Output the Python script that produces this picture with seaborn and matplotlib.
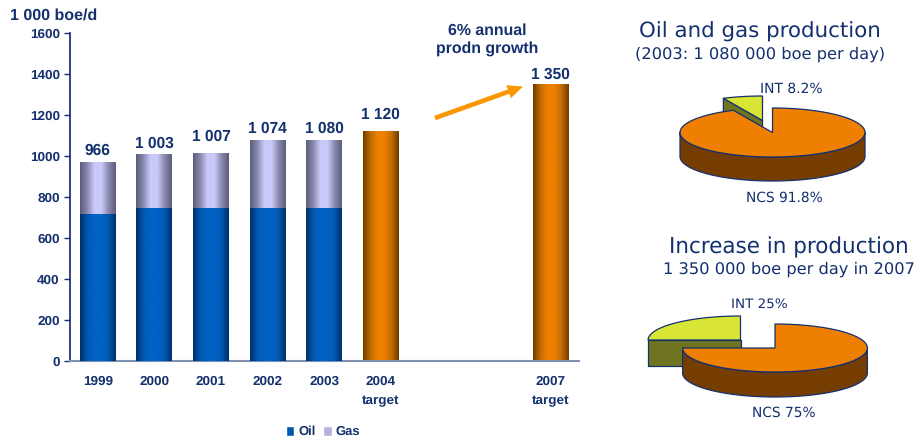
import numpy as np
import matplotlib
matplotlib.use("Agg")
import matplotlib.pyplot as plt
from matplotlib.colors import LinearSegmentedColormap
from matplotlib.patches import Patch, Polygon
import seaborn as sns

# === data ===
categories = ["1999", "2000", "2001", "2002", "2003", "2004\ntarget", "", " ", "2007\ntarget"]
totals = [966, 1003, 1007, 1074, 1080, 1120, 0, 0, 1350]
bar_tops = [970, 1005, 1010, 1078, 1078, 1120, 0, 0, 1350]
label_heights = [1024, 1060, 1096, 1135, 1135, 1200, 0, 0, 1395]
oil = [715, 745, 745, 745, 745, 0, 0, 0, 0]
y_ticks = [0, 200, 400, 600, 800, 1000, 1200, 1400, 1600]
pie1_shares = [91.8, 8.2]
pie2_shares = [75, 25]

navy = "#14306f"
W, H = 916, 442

sns.set_theme(style="white")
plt.rcParams["font.family"] = ["Liberation Sans", "DejaVu Sans"]
plt.rcParams["text.hinting"] = "none"

fig = plt.figure(figsize=(W / 100, H / 100), dpi=100, facecolor="white")
ax = fig.add_axes([69.5 / W, 1 - 361 / H, 509.5 / W, 328 / H])

# === bars ===
sns.barplot(x=categories, y=bar_tops, order=categories, color="#c8c8f8", width=0.635, ax=ax)
sns.barplot(x=categories, y=oil, order=categories, color="#0060c0", width=0.635, ax=ax)

cmap_gas = LinearSegmentedColormap.from_list("gas", ["#5c5c7c", "#8a8aae", "#c9c9fa", "#c9c9fa", "#8a8aae", "#5c5c7c"])
cmap_oil = LinearSegmentedColormap.from_list("oil", ["#00306a", "#0058b0", "#0062c4", "#0062c4", "#0058b0", "#00306a"])
cmap_tgt = LinearSegmentedColormap.from_list("tgt", ["#703c00", "#c06c00", "#ee8000", "#ee8000", "#c06c00", "#703c00"])
grad = np.linspace(0, 1, 64).reshape(1, -1)

n = len(categories)
for i, patch in enumerate(ax.patches):
    if patch.get_height() <= 0:
        continue
    idx = i % n
    if "target" in categories[idx]:
        cmap = cmap_tgt
    elif i < n:
        cmap = cmap_gas
    else:
        cmap = cmap_oil
    x0, w, h = patch.get_x(), patch.get_width(), patch.get_height()
    ax.imshow(grad, cmap=cmap, aspect="auto", extent=[x0, x0 + w, 0, h], zorder=2 + (i >= n))
    patch.set_visible(False)

ax.set_xlim(-0.5, n - 0.5)
ax.set_ylim(0, 1600)
ax.set_yticks(y_ticks)
ax.tick_params(axis="y", length=4, width=1, color=navy, labelcolor=navy, labelsize=9.7, pad=3, left=True)
ax.tick_params(axis="x", length=0, labelcolor=navy, labelsize=9.7, pad=10.5)
for lab in ax.get_yticklabels():
    lab.set_fontweight("bold")
ax.set_xticks(range(n))
ax.set_xticklabels(categories, fontweight="bold", linespacing=1.75)
sns.despine(ax=ax)
ax.spines["left"].set_color(navy)
ax.spines["bottom"].set_color("#8090b0")
ax.spines["bottom"].set_linewidth(1.5)

for i, v in enumerate(totals):
    if v > 0:
        ax.text(i, label_heights[i], f"{v:,}".replace(",", " "), ha="center", va="center",
                color=navy, fontsize=11.2, fontweight="bold", zorder=5)

# legend
handles = [Patch(facecolor="#0058b0", label="Oil"), Patch(facecolor="#b4b4dc", label="Gas")]
fig.legend(handles=handles, loc="center", bbox_to_anchor=(323 / W, 1 - 432 / H), ncol=2, frameon=False,
           prop={"weight": "bold", "size": 9.4}, labelcolor=navy, handlelength=0.65, handleheight=0.75,
           handletextpad=0.3, columnspacing=0.6, borderpad=0)

# === overlay in pixel coordinates ===
ov = fig.add_axes([0, 0, 1, 1], facecolor="none")
ov.set_xlim(0, W)
ov.set_ylim(H, 0)
ov.axis("off")

ov.text(10, 16, "1 000 boe/d", color=navy, fontsize=11.5, fontweight="bold", va="center")
ov.text(487.5, 40, "6% annual\nprodn growth", color=navy, fontsize=11.4, fontweight="bold", ha="center",
        va="center", linespacing=1.25)
ov.annotate("", xy=(523, 86.5), xytext=(435, 118),
            arrowprops=dict(arrowstyle="simple,head_length=1.0,head_width=0.9,tail_width=0.3", color="#fa9600",
                            lw=0, mutation_scale=11, shrinkA=0, shrinkB=0))


def arc(cx, cy, rx, ry, a0, a1):
    t = np.radians(np.linspace(a0, a1, 120))
    return np.column_stack([cx + rx * np.cos(t), cy - ry * np.sin(t)])


def pie3d(shares, cx, cy, rx, ry, depth, dx, dy, depth2, trim=0):
    sweep = shares[0] * 3.6 + trim
    end = 90 - sweep
    edge = dict(edgecolor=navy, linewidth=0.9, joinstyle="round")
    # detached small slice, drawn first so the main slice covers it
    sx, sy = cx + dx, cy + dy
    rim = arc(sx, sy, rx, ry, end, 90 - 360)
    corner = rim[0]
    wall = [(sx, sy), corner, (corner[0], corner[1] + depth2), (sx, sy + depth2)]
    ov.add_patch(Polygon(wall, facecolor="#6f7420", **edge))
    ov.add_patch(Polygon(np.vstack([[(sx, sy)], rim]), facecolor="#d8e534", **edge))
    # main slice side wall, only the front half of the rim shows
    front = arc(cx, cy, rx, ry, 180, 360)
    side = np.vstack([front, front[::-1] + [0, depth]])
    ov.add_patch(Polygon(side, facecolor="#753e00", **edge))
    top = arc(cx, cy, rx, ry, 90, 90 - sweep)
    ov.add_patch(Polygon(np.vstack([[(cx, cy)], top]), facecolor="#ee7f00", **edge))


pie3d(pie1_shares, 772.5, 132.5, 92.5, 24.5, 24, -10, -12, 24, trim=4.5)
pie3d(pie2_shares, 775, 348, 92.4, 24, 25, -34.5, -8, 26)

txt = dict(color=navy, family=["DejaVu Sans"], ha="center", va="center")
ov.text(760, 32, "Oil and gas production", fontsize=15.4, **txt)
ov.text(760.5, 54, "(2003: 1 080 000 boe per day)", fontsize=11.7, **txt)
ov.text(791.5, 89, "INT 8.2%", fontsize=10, **txt)
ov.text(784.5, 198, "NCS 91.8%", fontsize=9.9, **txt)
ov.text(789, 247, "Increase in production", fontsize=15.5, **txt)
ov.text(788.5, 269, "1 350 000 boe per day in 2007", fontsize=11.7, **txt)
ov.text(759.5, 304, "INT 25%", fontsize=9.7, **txt)
ov.text(784, 413, "NCS 75%", fontsize=9.9, **txt)

fig.savefig("out.png", dpi=100)
